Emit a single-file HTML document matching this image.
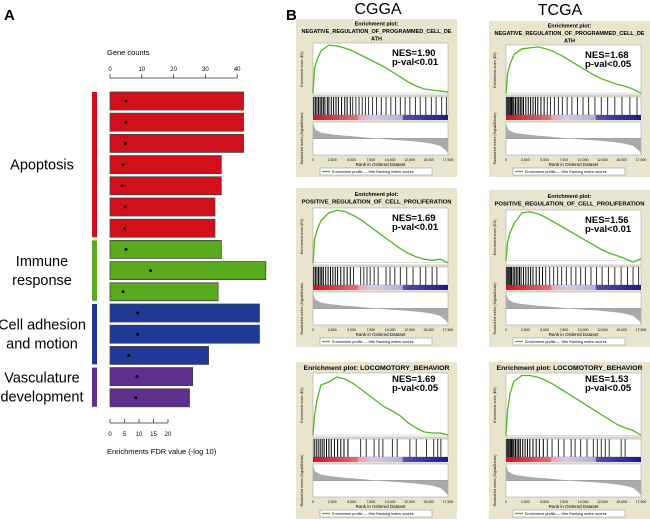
<!DOCTYPE html>
<html><head><meta charset="utf-8">
<style>
body{margin:0;background:#fff;}
svg{display:block;font-family:"Liberation Sans",sans-serif;}
</style></head>
<body>
<svg id="fig" width="650" height="520" viewBox="0 0 650 520">
<defs>
<linearGradient id="cbar" x1="0" x2="1" y1="0" y2="0">
<stop offset="0" stop-color="#d01020"/><stop offset="0.33" stop-color="#e07080"/>
<stop offset="0.34" stop-color="#e8a0c8"/><stop offset="0.45" stop-color="#d8c8e8"/>
<stop offset="0.66" stop-color="#b0b0e0"/><stop offset="0.67" stop-color="#5050b0"/>
<stop offset="1" stop-color="#1a1a90"/></linearGradient>
</defs>
<text x="4" y="20" font-size="15" font-weight="bold">A</text>
<text x="286" y="20" font-size="15" font-weight="bold">B</text>
<text x="378" y="14" font-size="16" text-anchor="middle">CGGA</text>
<text x="560" y="15" font-size="16" text-anchor="middle">TCGA</text>
<g id="panelA"></g>
<g id="panelB"></g>
</svg>
<script>
const NS="http://www.w3.org/2000/svg";
function mk(p,tag,at){const e=document.createElementNS(NS,tag);for(const k in at)e.setAttribute(k,at[k]);p.appendChild(e);return e;}
// ---------- Panel A data ----------
const geneCounts=[42,42,42,35,35,33,33,35,49,34,47,47,31,26,25];
const fdrValues=[5.5,5.5,5.3,4.5,4.2,5.2,5,5.5,14,4.5,9.5,9.5,6.5,9.3,8.9];
const barGroups=[0,0,0,0,0,0,0,1,1,1,2,2,2,3,3];
const groupNames=[["Apoptosis"],["Immune","response"],["Cell adhesion","and motion"],["Vasculature","development"]];
const groupColors=["#d2101c","#5aaa1e","#1e3a96","#5e2f8e"];
const countTicks=[0,10,20,30,40];
const fdrTicks=[0,5,10,15,20];
const A=document.getElementById('panelA');
const x0=110, cScale=3.18, fScale=2.9, barTop=92, pitch=21.2, barH=18;
const xc=v=>x0+v*cScale, xf=v=>x0+v*fScale;
mk(A,'line',{x1:xc(0),x2:xc(40),y1:78,y2:78,stroke:'#333','stroke-width':0.8});
countTicks.forEach(t=>{mk(A,'line',{x1:xc(t),x2:xc(t),y1:74,y2:78,stroke:'#333','stroke-width':0.8});
 const tx=mk(A,'text',{x:xc(t),y:71,'font-size':6,'text-anchor':'middle'});tx.textContent=t;
 
 });
let gt=mk(A,'text',{x:107,y:55,'font-size':7.5});gt.textContent="Gene counts";

mk(A,'line',{x1:xf(0),x2:xf(20),y1:423,y2:423,stroke:'#333','stroke-width':0.8});
fdrTicks.forEach(t=>{mk(A,'line',{x1:xf(t),x2:xf(t),y1:419,y2:423,stroke:'#333','stroke-width':0.8});
 const tx=mk(A,'text',{x:xf(t),y:436,'font-size':6,'text-anchor':'middle'});tx.textContent=t;
 
 });
let ft=mk(A,'text',{x:107,y:454,'font-size':7.5});ft.textContent="Enrichments FDR value (-log 10)";

geneCounts.forEach((v,i)=>{const y=barTop+i*pitch;
 const r=mk(A,'rect',{x:xc(0),y:y,width:xc(v)-xc(0),height:barH,fill:groupColors[barGroups[i]],stroke:'#444','stroke-width':0.8});
 
 
 const d=mk(A,'circle',{cx:xf(fdrValues[i]),cy:y+barH/2,r:1.5,fill:'#000'});
 
 });
groupNames.forEach((nm,g)=>{const idx=barGroups.map((b,i)=>b===g?i:-1).filter(i=>i>=0);
 const y1=barTop+idx[0]*pitch, y2=barTop+idx[idx.length-1]*pitch+barH;
 const r=mk(A,'rect',{x:92,y:y1,width:5,height:y2-y1,fill:groupColors[g]});
 
 
 const cy=(y1+y2)/2, n=nm.length;
 nm.forEach((line,k)=>{const t=mk(A,'text',{x:42,y:cy+5+(k-(n-1)/2)*19,'font-size':14.5,'text-anchor':'middle'});t.textContent=line;
  
  });});

// ---------- Panel B data ----------
const ranks=[0,200,500,1000,2000,3000,4000,5000,6000,7000,8000,9000,10000,11000,12000,13000,14000,15000,16000,17000];
const esNegCGGA=[0,0.25,0.33,0.42,0.48,0.47,0.45,0.42,0.38,0.34,0.3,0.26,0.21,0.16,0.11,0.07,0.04,0.03,0.02,0.01];
const esNegTCGA=[0,0.2,0.3,0.4,0.46,0.47,0.48,0.46,0.43,0.39,0.34,0.29,0.24,0.19,0.15,0.12,0.09,0.07,0.04,0.0];
const esProCGGA=[0,0.2,0.28,0.36,0.43,0.45,0.44,0.41,0.37,0.32,0.27,0.22,0.17,0.12,0.08,0.05,0.03,0.02,0.03,0.0];
const esProTCGA=[0,0.2,0.3,0.4,0.52,0.53,0.51,0.47,0.42,0.37,0.32,0.27,0.22,0.17,0.12,0.08,0.05,0.02,-0.02,0.02];
const esLocCGGA=[0,0.2,0.35,0.5,0.53,0.58,0.56,0.52,0.46,0.4,0.34,0.28,0.24,0.19,0.12,0.07,0.03,0.02,0.02,0.0];
const esLocTCGA=[0,0.3,0.5,0.65,0.72,0.72,0.7,0.66,0.61,0.55,0.49,0.43,0.37,0.31,0.25,0.19,0.13,0.09,0.06,0.0];
const hitsNegCGGA=[100,300,500,700,900,1100,1300,1500,1800,2000,2300,2600,2900,3200,3600,4000,4300,4700,5000,5400,5800,6200,6600,7000,7500,8000,8600,9200,9800,10400,11000,11600,12200,12900,13500,14200,14900,15500,16200,16800];
const hitsNegTCGA=[100,250,400,550,700,850,1000,1200,1400,1600,1800,2000,2200,2500,2800,3100,3400,3700,4000,4400,4800,5200,5600,6100,6600,7100,7700,8300,9000,9700,10400,11200,12000,12800,13700,14600,15600,16500];
const hitsProCGGA=[100,300,500,700,900,1100,1300,1600,1900,2200,2500,2800,3100,3500,3900,4300,4700,5100,6000,6400,6800,7200,7700,8200,9200,9700,10300,11000,11800,12600,13500,14200,15000,15600];
const hitsProTCGA=[100,250,400,550,700,900,1100,1300,1500,1700,1900,2200,2500,2800,3100,3400,3800,4200,4600,5000,5500,6000,6500,7000,7600,8200,8800,9400,10000,10700,11400,12100,12900,13700,14500,15300,16000,16700];
const hitsLocCGGA=[150,400,650,900,1150,1400,1700,2000,2300,2700,3100,3500,3900,4400,6000,6700,7700,8300,8800,10000,10600,12200,13000,14300,15200,15700,16100];
const hitsLocTCGA=[100,250,400,550,700,850,1000,1200,1400,1600,1800,2100,2400,2700,3000,3400,3800,4200,4700,5200,5800,6600,7300,8200,8700,9400,10200,11000,11500,12000,12500,13000,14500,15000];
const metricRanks=[0,300,1000,2000,3000,4000,5000,6000,7000,8000,9000,10000,11000,12000,13000,14000,15000,16000,16700,17000];
const metricVals=[1.0,0.6,0.4,0.3,0.24,0.19,0.15,0.1,0.05,0.0,-0.04,-0.08,-0.12,-0.16,-0.21,-0.27,-0.35,-0.5,-0.8,-1.0];
const nesTexts=[["NES=1.90","p-val<0.01"],["NES=1.68","p-val<0.05"],["NES=1.69","p-val<0.01"],["NES=1.56","p-val<0.01"],["NES=1.69","p-val<0.05"],["NES=1.53","p-val<0.05"]];

const panels=[
 {l:296,t:19,b:177,title:["Enrichment plot:","NEGATIVE_REGULATION_OF_PROGRAMMED_CELL_DE","ATH"],es:esNegCGGA,hits:hitsNegCGGA,max:0.5,min:-0.02,esTop:43,nes:0},
 {l:489,t:21,b:177,title:["Enrichment plot:","NEGATIVE_REGULATION_OF_PROGRAMMED_CELL_DE","ATH"],es:esNegTCGA,hits:hitsNegTCGA,max:0.5,min:-0.02,esTop:45,nes:1},
 {l:296,t:188,b:347,title:["Enrichment plot:","POSITIVE_REGULATION_OF_CELL_PROLIFERATION"],es:esProCGGA,hits:hitsProCGGA,max:0.47,min:-0.02,esTop:208,nes:2},
 {l:489,t:190,b:347,title:["Enrichment plot:","POSITIVE_REGULATION_OF_CELL_PROLIFERATION"],es:esProTCGA,hits:hitsProTCGA,max:0.55,min:-0.05,esTop:210,nes:3},
 {l:296,t:362,b:519,title:["Enrichment plot:   LOCOMOTORY_BEHAVIOR"],es:esLocCGGA,hits:hitsLocCGGA,max:0.62,min:-0.02,esTop:373,nes:4},
 {l:489,t:362,b:519,title:["Enrichment plot:   LOCOMOTORY_BEHAVIOR"],es:esLocTCGA,hits:hitsLocTCGA,max:0.75,min:-0.02,esTop:373,nes:5}];
const B=document.getElementById('panelB');
panels.forEach((p,pi)=>{
 const g=mk(B,'g',{});
 
 
 const W=161;
 mk(g,'rect',{x:p.l,y:p.t,width:W,height:p.b-p.t,fill:'#e9e4cd'});
 p.title.forEach((s,k)=>{
  const one=p.title.length===1;
  const at={x:p.l+W/2,y:p.t+(one?8:(p.title.length===3?6.5:8))+k*7.5,'font-size':one?6.5:5.5,'font-weight':'bold','text-anchor':'middle'};
  if(s.length>30){at.textLength=one?146:150;at.lengthAdjust='spacingAndGlyphs';}
  const t=mk(g,'text',at);t.textContent=s;
  });
 const px0=p.l+17, px1=p.l+W-9, b=p.b;
 const hitTop=b-80, esBot=hitTop-2;
 const xr=r=>px0+(r/17000)*(px1-px0);
 const ye=v=>esBot-(v-p.min)/(p.max-p.min)*(esBot-p.esTop);
 mk(g,'rect',{x:px0,y:p.esTop,width:px1-px0,height:esBot-p.esTop,fill:'#fff',stroke:'#999','stroke-width':0.5});
 mk(g,'line',{x1:px0,x2:px1,y1:ye(0),y2:ye(0),stroke:'#bbb','stroke-width':0.5});
 const path=p.es.map((v,i)=>(i?'L':'M')+xr(ranks[i]).toFixed(1)+','+ye(v).toFixed(1)).join('');
 const c=mk(g,'path',{d:path,fill:'none',stroke:'#4fb81e','stroke-width':1.3});
 
 mk(g,'rect',{x:px0,y:hitTop,width:px1-px0,height:18,fill:'#fff',stroke:'#999','stroke-width':0.5});
 p.hits.forEach(h=>{const l=mk(g,'line',{x1:xr(h),x2:xr(h),y1:hitTop,y2:hitTop+18,stroke:h<5000?'#000':'#333','stroke-width':1});
  });
 mk(g,'rect',{x:px0,y:hitTop+18,width:px1-px0,height:5,fill:'url(#cbar)'});
 const rt=b-55, rb=b-22;
 mk(g,'rect',{x:px0,y:rt,width:px1-px0,height:rb-rt,fill:'#fff',stroke:'#999','stroke-width':0.5});
 const yz=(rt+rb)/2, ym=v=>yz-v*(rb-rt)/2*0.9;
 const mp='M'+xr(0)+','+yz+metricVals.map((v,i)=>'L'+xr(metricRanks[i]).toFixed(1)+','+ym(v).toFixed(1)).join('')+'L'+xr(17000)+','+yz+'Z';
 const m=mk(g,'path',{d:mp,fill:'#aaa'});
 
 mk(g,'line',{x1:px0,x2:px1,y1:yz,y2:yz,stroke:'#555','stroke-width':0.4});
 ['0','2,500','5,000','7,500','10,000','12,500','15,000','17,500'].forEach((s,i)=>{const t=mk(g,'text',{x:xr(i*2500*17000/17500),y:b-16,'font-size':3.5,'text-anchor':'middle'});t.textContent=s;});
 const xl=mk(g,'text',{x:(px0+px1)/2,y:b-11,'font-size':4.5,'text-anchor':'middle'});xl.textContent="Rank in Ordered Dataset";
 const yl1=mk(g,'text',{x:0,y:0,'font-size':3.5,'text-anchor':'middle',transform:`translate(${p.l+7},${(p.esTop+esBot)/2}) rotate(-90)`});yl1.textContent="Enrichment score (ES)";
 const yl2=mk(g,'text',{x:0,y:0,'font-size':3.5,'text-anchor':'middle',transform:`translate(${p.l+7},${(rt+rb)/2}) rotate(-90)`});yl2.textContent="Ranked list metric (Signal2Noise)";
 mk(g,'rect',{x:p.l+24,y:b-9,width:112,height:7,fill:'#fff',stroke:'#888','stroke-width':0.5});
 mk(g,'line',{x1:p.l+26,x2:p.l+34,y1:b-5.5,y2:b-5.5,stroke:'#4fb81e','stroke-width':1.3});
 const lg=mk(g,'text',{x:p.l+36,y:b-4,'font-size':3.8});lg.textContent="Enrichment profile  — Hits        Ranking metric scores";
 
 const nt=nesTexts[p.nes], ny=p.title.length===1?p.esTop+9:p.esTop+13;
 nt.forEach((s,k)=>{const t=mk(g,'text',{x:p.l+96,y:ny+k*9,'font-size':9.5,'font-weight':'bold'});t.textContent=s;
  });
});
</script>
</body></html>
